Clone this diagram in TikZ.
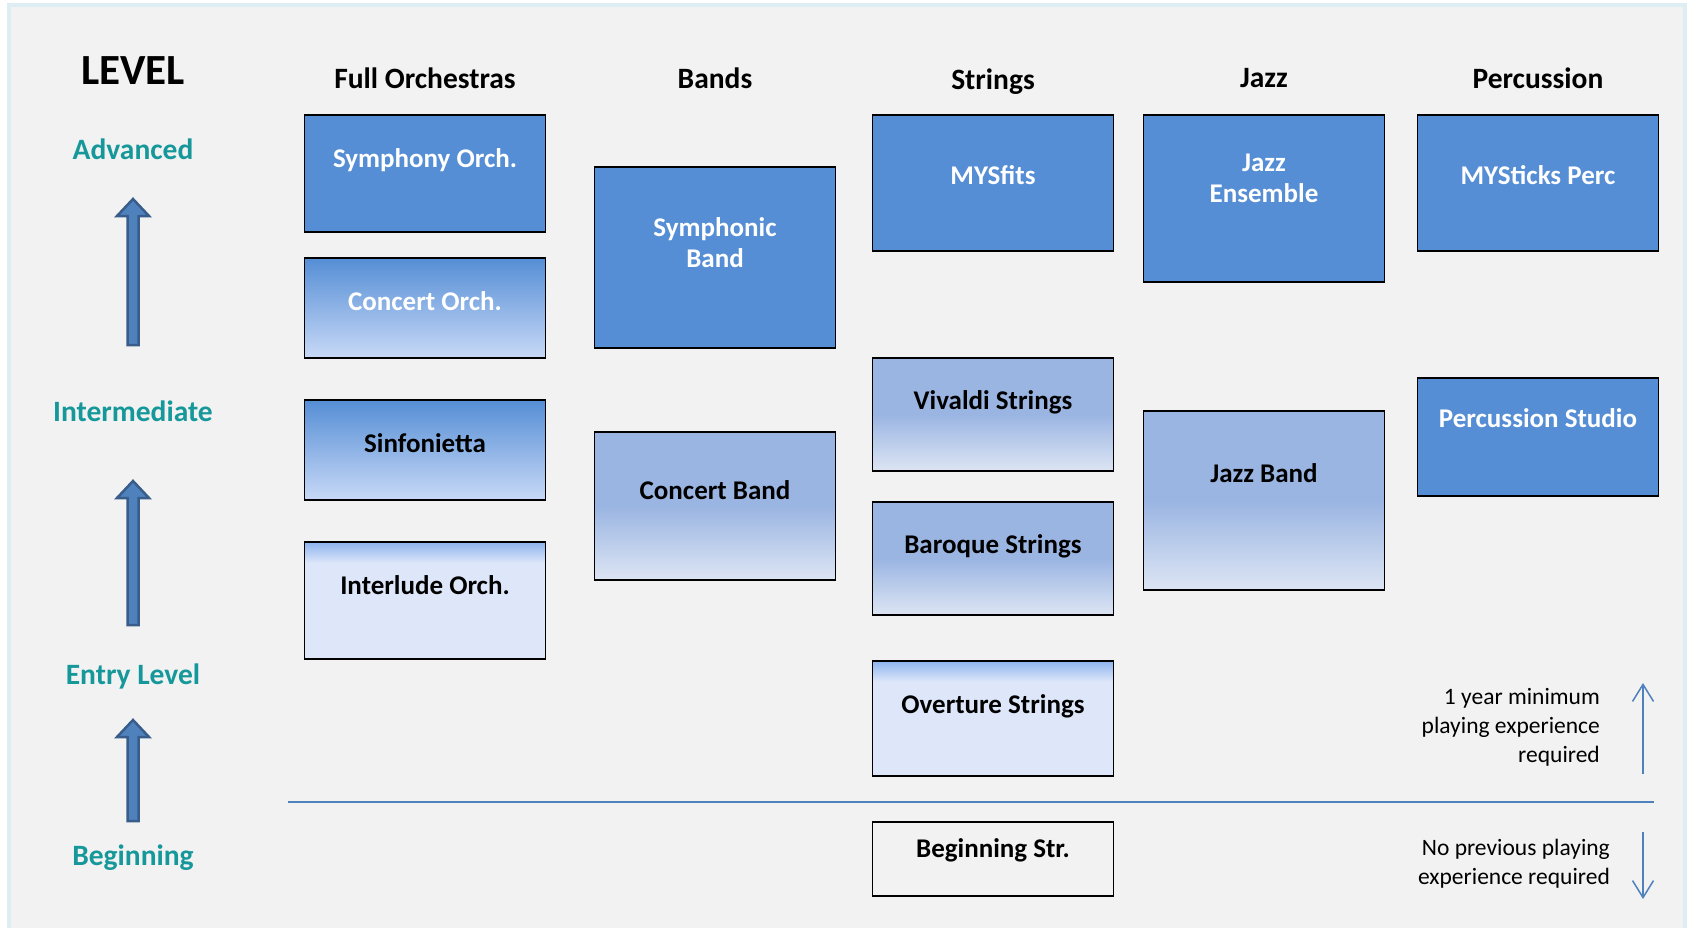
\documentclass[tikz,border=0pt]{standalone}
\usepackage{fontspec}
\setmainfont{Carlito}
\usetikzlibrary{arrows.meta}

\definecolor{pagebg}{HTML}{F2F2F2}
\definecolor{framecol}{HTML}{DCEEF4}
\definecolor{solidblue}{HTML}{558ED5}
\definecolor{fadelow}{HTML}{C8D9F7}
\definecolor{midblue}{HTML}{9AB5E2}
\definecolor{midlow}{HTML}{DDE5F4}
\definecolor{paletop}{HTML}{8DB3EE}
\definecolor{paleflat}{HTML}{DEE7F9}
\definecolor{teal}{HTML}{16989A}
\definecolor{arrowfill}{HTML}{4F81BD}
\definecolor{arrowline}{HTML}{385D8A}

% vertical fades, stops between 25bp and 75bp cover the box
\pgfdeclareverticalshading{darkfade}{100bp}{color(0bp)=(fadelow); color(25bp)=(fadelow); color(75bp)=(solidblue); color(100bp)=(solidblue)}
\pgfdeclareverticalshading{midfade}{100bp}{color(0bp)=(midlow); color(25bp)=(midlow); color(50bp)=(midblue); color(75bp)=(midblue); color(100bp)=(midblue)}
\pgfdeclareverticalshading{palefade}{100bp}{color(0bp)=(paleflat); color(66bp)=(paleflat); color(75bp)=(paletop); color(100bp)=(paletop)}

\begin{document}
\begin{tikzpicture}[
    x=1pt, y=-1pt,
    grp/.style={rectangle, draw=black, line width=1.8pt, minimum width=241pt, inner sep=0pt},
    solid/.style={grp, fill=solidblue},
    dark/.style={grp, shading=darkfade},
    mid/.style={grp, shading=midfade},
    pale/.style={grp, shading=palefade},
    plain/.style={grp, fill=pagebg},
    wtxt/.style={font=\fontsize{27}{31}\selectfont\bfseries, text=white, align=center, inner sep=0pt},
    btxt/.style={wtxt, text=black},
    head/.style={font=\fontsize{29.5}{33}\selectfont\bfseries, inner sep=0pt},
    lvl/.style={font=\fontsize{29.5}{33}\selectfont\bfseries, text=teal, inner sep=0pt},
    note/.style={font=\fontsize{23.5}{29}\selectfont, align=right, inner sep=0pt},
    lvlarrow/.style={fill=arrowfill, draw=arrowline, line width=2.5pt, line join=miter},
    thin/.style={draw=arrowfill, line width=1.5pt, -{Straight Barb[length=17pt, width=21pt, line width=1.5pt]}}
]
\useasboundingbox (0,0) rectangle (1690,927);
\fill[white] (0,0) rectangle (1690,927);
\draw[framecol, line width=4pt, fill=pagebg] (9,5) rectangle (1685,935);

% level column
\node[font=\fontsize{43}{47}\selectfont\bfseries, inner sep=0pt] (level) at (133,71) {LEVEL};
\node[lvl] (adv) at (133,149) {Advanced};
\node[lvl] (inter) at (133,411) {Intermediate};
\node[lvl] (entry) at (133,676) {Entry Level};
\node[lvl] (begin) at (133,858) {Beginning};
\foreach \yb/\yt in {345/199, 625/481, 821/720}
  \draw[lvlarrow] (127.5,\yb) -- (127.5,\yt+17) -- (117,\yt+17) -- (133,\yt)
    -- (149,\yt+17) -- (138.5,\yt+17) -- (138.5,\yb) -- cycle;

% column heads
\node[head] (hOrch) at (425,78) {Full Orchestras};
\node[head] (hBand) at (715,78) {Bands};
\node[head] (hStr) at (993,82) {Strings};
\node[head] (hJazz) at (1264,78) {Jazz};
\node[head] (hPerc) at (1538,78) {Percussion};

% full orchestras
\node[solid, minimum height=117pt] (symph) at (425,173.5) {};
\node[dark, minimum height=100pt] (corch) at (425,308) {};
\node[dark, minimum height=100pt] (sinf) at (425,450) {};
\node[pale, minimum height=117pt] (interl) at (425,600.5) {};
\node[wtxt] at (425,160) {Symphony Orch.};
\node[wtxt] at (425,301) {Concert Orch.};
\node[btxt] at (425,443) {Sinfonietta};
\node[btxt] at (425,585) {Interlude Orch.};

% bands
\node[solid, minimum height=181pt] (symband) at (715,257.5) {};
\node[mid, minimum height=148pt] (cband) at (715,506) {};
\node[wtxt] at (715,243) {Symphonic\\Band};
\node[btxt] at (715,490) {Concert Band};

% strings
\node[solid, minimum height=136pt] (mysfits) at (993,183) {};
\node[mid, minimum height=113pt] (vivaldi) at (993,414.5) {};
\node[mid, minimum height=113pt] (baroque) at (993,558.5) {};
\node[pale, minimum height=115pt] (overture) at (993,718.5) {};
\node[plain, minimum height=74pt] (begstr) at (993,859) {};
\node[wtxt] at (993,175) {MYSfits};
\node[btxt] at (993,402) {Vivaldi Strings};
\node[btxt] at (993,546) {Baroque Strings};
\node[btxt] at (993,706) {Overture Strings};
\node[btxt] at (993,850) {Beginning Str.};

% jazz
\node[solid, minimum height=167pt] (jazzens) at (1264,198.5) {};
\node[mid, minimum height=179pt] (jazzband) at (1264,500.5) {};
\node[wtxt] at (1264,178) {Jazz\\Ensemble};
\node[btxt] at (1264,473) {Jazz Band};

% percussion
\node[solid, minimum height=136pt] (mysticks) at (1538,183) {};
\node[solid, minimum height=118pt] (percstudio) at (1538,437) {};
\node[wtxt] at (1538,175) {MYSticks Perc};
\node[wtxt] at (1538,418) {Percussion Studio};

% divider and notes
\coordinate (divL) at (288,802);
\coordinate (divR) at (1654,802);
\draw[arrowfill, line width=1.5pt] (divL) -- (divR);
\node[note, anchor=east] (noteUp) at (1600,727) {1 year minimum\\playing experience\\required};
\node[note, anchor=east] (noteDown) at (1610,864) {No previous playing\\experience required};
\coordinate (upS) at (1643,774);
\coordinate (upE) at (1643,683);
\coordinate (dnS) at (1643,832);
\coordinate (dnE) at (1643,899);
\draw[thin] (upS) -- (upE);
\draw[thin] (dnS) -- (dnE);
\end{tikzpicture}
\end{document}
